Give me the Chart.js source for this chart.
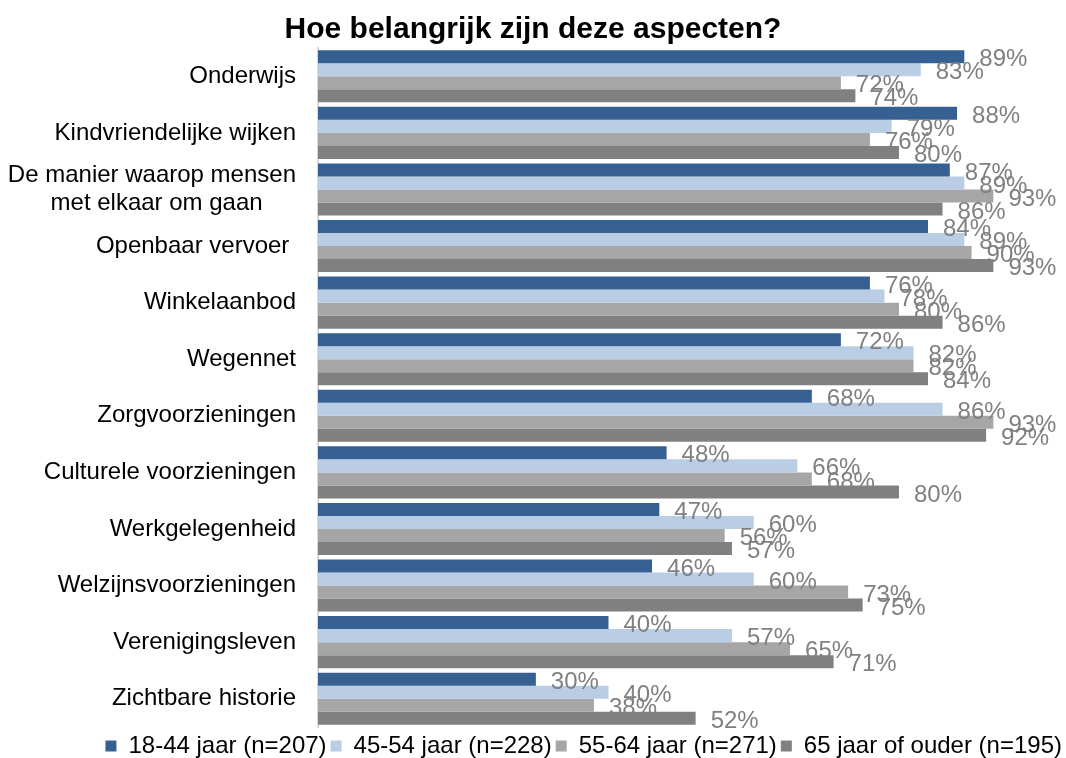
<!DOCTYPE html>
<html>
<head>
<meta charset="utf-8">
<script src="https://cdn.jsdelivr.net/npm/chart.js@4/dist/chart.umd.min.js"></script>
<style>
  html, body { margin: 0; padding: 0; background: #ffffff; }
  #wrap { width: 1066px; height: 758px; position: relative; }
</style>
</head>
<body>
<div id="wrap"><canvas id="c" width="1066" height="758"></canvas></div>
<script>
const chartTitle = 'Hoe belangrijk zijn deze aspecten?';
const categories = [
  'Onderwijs',
  'Kindvriendelijke wijken',
  ['De manier waarop mensen', 'met elkaar om gaan     '],
  'Openbaar vervoer ',
  'Winkelaanbod',
  'Wegennet',
  'Zorgvoorzieningen',
  'Culturele voorzieningen',
  'Werkgelegenheid',
  'Welzijnsvoorzieningen',
  'Verenigingsleven',
  'Zichtbare historie'
];
const seriesNames = ['18-44 jaar (n=207)', '45-54 jaar (n=228)', '55-64 jaar (n=271)', '65 jaar of ouder (n=195)'];
const age18to44 = [89, 88, 87, 84, 76, 72, 68, 48, 47, 46, 40, 30];
const age45to54 = [83, 79, 89, 89, 78, 82, 86, 66, 60, 60, 57, 40];
const age55to64 = [72, 76, 93, 90, 80, 82, 93, 68, 56, 73, 65, 38];
const age65plus = [74, 80, 86, 93, 86, 84, 92, 80, 57, 75, 71, 52];
const seriesColors = ['#366092', '#B9CDE5', '#A6A6A6', '#808080'];

const FONT = "'Liberation Sans', Arial, sans-serif";

const valueLabels = {
  id: 'valueLabels',
  afterDatasetsDraw(chart) {
    const ctx = chart.ctx;
    ctx.save();
    ctx.font = '24px ' + FONT;
    ctx.fillStyle = '#808080';
    ctx.textAlign = 'left';
    ctx.textBaseline = 'middle';
    chart.data.datasets.forEach((ds, i) => {
      const meta = chart.getDatasetMeta(i);
      meta.data.forEach((el, j) => {
        ctx.fillText(ds.data[j] + '%', el.x + 15, el.y + 3);
      });
    });
    ctx.restore();
  }
};

// Let the legend sit a little lower (closer to the bottom edge).
const legendFitTweak = {
  id: 'legendFitTweak',
  beforeLayout(chart) {
    const lg = chart.legend;
    if (!lg || lg._fitPatched) return;
    const orig = Object.getPrototypeOf(lg).fit;
    lg.fit = function () {
      orig.call(this);
      this.height = Math.max(0, this.height - 7);
    };
    lg._fitPatched = true;
  },
  afterLayout(chart) {
    const lg = chart.legend;
    if (!lg) return;
    lg.top += 3;
    lg.bottom += 3;
  }
};

const allSeries = [age18to44, age45to54, age55to64, age65plus];

new Chart(document.getElementById('c'), {
  type: 'bar',
  data: {
    labels: categories,
    datasets: allSeries.map((d, i) => ({
      label: seriesNames[i],
      data: d,
      backgroundColor: seriesColors[i],
      borderWidth: 0,
      barPercentage: 1.0,
      categoryPercentage: 0.92
    }))
  },
  options: {
    indexAxis: 'y',
    responsive: false,
    animation: false,
    devicePixelRatio: 1,
    layout: { padding: { left: 0, right: 0, top: 0, bottom: 0 } },
    scales: {
      x: { display: false, min: 0, max: 103 },
      y: {
        grid: { display: false, drawTicks: false },
        border: { display: true, color: '#D9D9D9', width: 2 },
        ticks: { color: '#000000', font: { family: FONT, size: 24 }, padding: 22, autoSkip: false },
        afterFit(scale) {
          scale.width = 318;
          scale.paddingTop = 0;
          scale.paddingBottom = 0;
        }
      }
    },
    plugins: {
      title: {
        display: true,
        text: chartTitle,
        color: '#000000',
        font: { family: FONT, size: 30, weight: 'bold', lineHeight: 1.2 },
        padding: { top: 12, bottom: 0 }
      },
      legend: {
        position: 'bottom',
        align: 'end',
        labels: {
          color: '#000000',
          font: { family: FONT, size: 24 },
          boxWidth: 11,
          boxHeight: 11,
          padding: 4
        }
      },
      tooltip: { enabled: false }
    }
  },
  plugins: [valueLabels, legendFitTweak]
});
</script>
</body>
</html>
